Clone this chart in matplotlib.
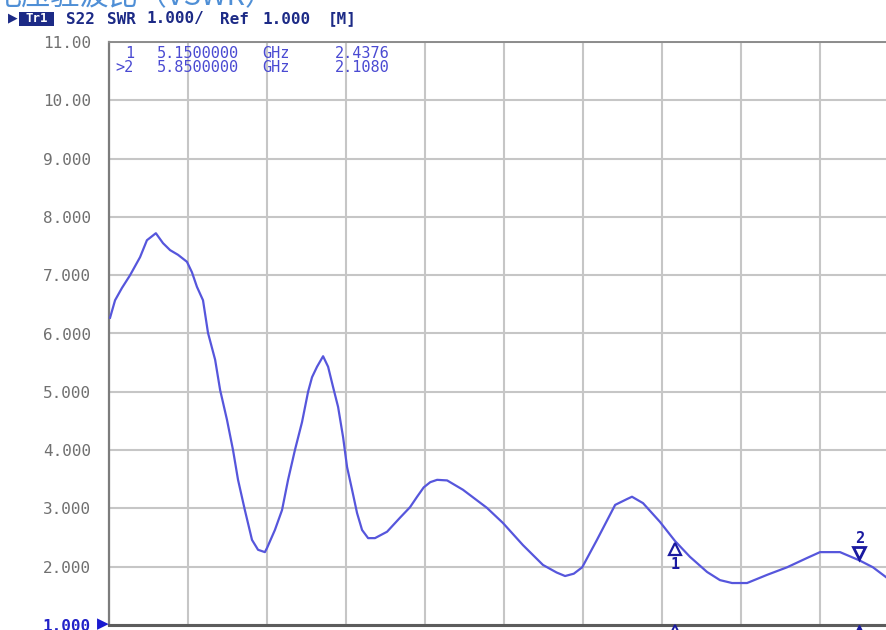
#!/usr/bin/env python3
"""VSWR trace (S22) redrawn from a network analyser screenshot."""

import matplotlib
matplotlib.use("Agg")
import matplotlib.pyplot as plt
from matplotlib.patches import Rectangle
from matplotlib.transforms import offset_copy

# ── data ─────────────────────────────────────────────────────────
FREQ_GHZ = [3.004, 3.023, 3.049, 3.080, 3.118, 3.144, 3.178, 3.205, 3.232,
            3.262, 3.296, 3.315, 3.334, 3.357, 3.376, 3.403, 3.422, 3.448,
            3.471, 3.490, 3.516, 3.543, 3.566, 3.592, 3.600, 3.630, 3.657,
            3.680, 3.706, 3.733, 3.756, 3.771, 3.790, 3.813, 3.832, 3.851,
            3.870, 3.889, 3.904, 3.923, 3.942, 3.961, 3.984, 4.010, 4.056,
            4.105, 4.143, 4.170, 4.195, 4.220, 4.246, 4.284, 4.344, 4.435,
            4.496, 4.572, 4.648, 4.700, 4.732, 4.765, 4.797, 4.853, 4.922,
            4.967, 4.986, 5.028, 5.092, 5.150, 5.206, 5.271, 5.320, 5.366,
            5.423, 5.499, 5.575, 5.651, 5.700, 5.776, 5.850, 5.901, 5.951]
SWR = [6.27, 6.57, 6.78, 7.00, 7.31, 7.60, 7.72, 7.55, 7.43,
       7.35, 7.23, 7.05, 6.80, 6.57, 6.01, 5.55, 5.03, 4.52,
       4.00, 3.49, 2.97, 2.46, 2.29, 2.25, 2.32, 2.63, 2.97,
       3.49, 4.00, 4.48, 5.00, 5.25, 5.43, 5.61, 5.43, 5.08,
       4.74, 4.22, 3.71, 3.32, 2.92, 2.63, 2.49, 2.49, 2.60,
       2.84, 3.02, 3.20, 3.36, 3.45, 3.49, 3.48, 3.32, 3.01,
       2.75, 2.37, 2.03, 1.90, 1.84, 1.88, 1.99, 2.46, 3.06,
       3.16, 3.20, 3.09, 2.77, 2.4376, 2.17, 1.91, 1.77, 1.72,
       1.72, 1.86, 1.99, 2.15, 2.25, 2.25, 2.108, 1.99, 1.82]

MARKER_FREQ = [5.15, 5.85]
MARKER_SWR = [2.4376, 2.1080]

X_START, X_STOP, X_DIV = 3.0, 6.0, 0.3
Y_TICKS = [1, 2, 3, 4, 5, 6, 7, 8, 9, 10, 11]
Y_LABELS = ["1.000", "2.000", "3.000", "4.000", "5.000", "6.000",
            "7.000", "8.000", "9.000", "10.00", "11.00"]

TITLE = "电压驻波比（VSWR）"

W, H = 886, 630
MONO = "DejaVu Sans Mono"
NAVY = "#1c2a86"
TRACE = "#5656dc"
MK = "#1a1aa0"


def px(x, y):
    """pixel position (from top-left) -> figure fraction"""
    return x / W, 1 - y / H


fig = plt.figure(figsize=(W / 100, H / 100), dpi=100)
fig.patch.set_facecolor("white")

# plot area runs past the right edge of the crop (3 → 6 GHz)
ax = fig.add_axes([109 / W, 5 / H, 790 / W, 583 / H])
ax.set_xlim(X_START, X_STOP)
ax.set_ylim(1, 11)
ax.set_xticks([X_START + X_DIV * i for i in range(11)])
ax.set_yticks(Y_TICKS)
ax.set_yticklabels(Y_LABELS, family=MONO, fontsize=11.5, color="#707070")
ax.tick_params(length=0, labelbottom=False, pad=13)
ax.grid(True, color="#c6c6c6", lw=1.5)
ax.set_axisbelow(True)

bottom_lbl = ax.get_yticklabels()[0]
bottom_lbl.set_color("#2222c8")
bottom_lbl.set_fontweight("bold")

ax.spines["right"].set_visible(False)
ax.spines["left"].set_color("#7c7c7c")
ax.spines["left"].set_linewidth(1.6)
ax.spines["top"].set_color("#8c8c8c")
ax.spines["top"].set_linewidth(1.4)
ax.spines["bottom"].set_color("#5c5c5c")
ax.spines["bottom"].set_linewidth(2.2)

# trace
ax.plot(FREQ_GHZ, SWR, color=TRACE, lw=1.6, zorder=3, clip_on=False,
        solid_joinstyle="round")

# markers on the trace
down = offset_copy(ax.transData, fig=fig, x=0, y=-5.5, units="points")
up = offset_copy(ax.transData, fig=fig, x=0, y=5.5, units="points")
ax.plot(MARKER_FREQ[0], MARKER_SWR[0], marker="^", ms=9, mfc="none",
        mec=MK, mew=1.6, transform=down, zorder=4)
ax.annotate("1", (MARKER_FREQ[0], MARKER_SWR[0]), xytext=(0, -17),
            textcoords="offset points", ha="center", va="center",
            family=MONO, fontsize=11, fontweight="bold", color=MK)
ax.plot(MARKER_FREQ[1], MARKER_SWR[1], marker="v", ms=9, mfc="none",
        mec=MK, mew=2.0, transform=up, zorder=4)
ax.annotate("2", (MARKER_FREQ[1], MARKER_SWR[1]), xytext=(0, 16),
            textcoords="offset points", ha="center", va="center",
            family=MONO, fontsize=11, fontweight="bold", color=MK)

# marker ticks on the bottom edge
below = offset_copy(ax.transData, fig=fig, y=-4, units="points")
ax.plot(MARKER_FREQ[0], 1, marker="^", ms=8, mfc="white", mec=MK,
        mew=1.4, clip_on=False, zorder=5, transform=below)
ax.plot(MARKER_FREQ[1], 1, marker="^", ms=8, mfc=MK, mec=MK,
        clip_on=False, zorder=5, transform=below)

# reference level arrow
fig.text(*px(103, 624), "\u25B6", color="#1a1ad0", fontsize=11,
         ha="center", va="center", family="DejaVu Sans")

# marker readout
readout = [
    [(125, "1"), (157, "5.1500000"), (262, "GHz"), (335, "2.4376")],
    [(115, ">2"), (157, "5.8500000"), (262, "GHz"), (335, "2.1080")],
]
for row, y in zip(readout, (53, 68)):
    for x, s in row:
        fig.text(*px(x, y), s, family=MONO, fontsize=11, color="#4a4ad2",
                 ha="left", va="center")

# header line
fig.text(*px(13, 18), "\u25B6", color=NAVY, fontsize=9, ha="center",
         va="center", family="DejaVu Sans")
fig.add_artist(Rectangle(px(19, 26), 35 / W, 14 / H, transform=fig.transFigure,
                         facecolor=NAVY, edgecolor="none"))
fig.text(*px(36.5, 19), "Tr1", family=MONO, fontsize=9, fontweight="bold",
         color="white", ha="center", va="center")
header = [(66, "S22"), (107, "SWR"), (147, "1.000/"), (220, "Ref"),
          (263, "1.000"), (328, "[M]")]
for x, s in header:
    fig.text(*px(x, 19), s, family=MONO, fontsize=11.5, fontweight="bold",
             color=NAVY, ha="left", va="center")

# title, cut off by the top edge of the screenshot
fig.text(-8 / W, 1 - 5 / H, TITLE, family=["Noto Sans CJK SC", "DejaVu Sans"],
         fontsize=21, color="#4f8fd6", ha="left", va="baseline")

fig.savefig("out.png", dpi=100, facecolor="white")
plt.close(fig)
